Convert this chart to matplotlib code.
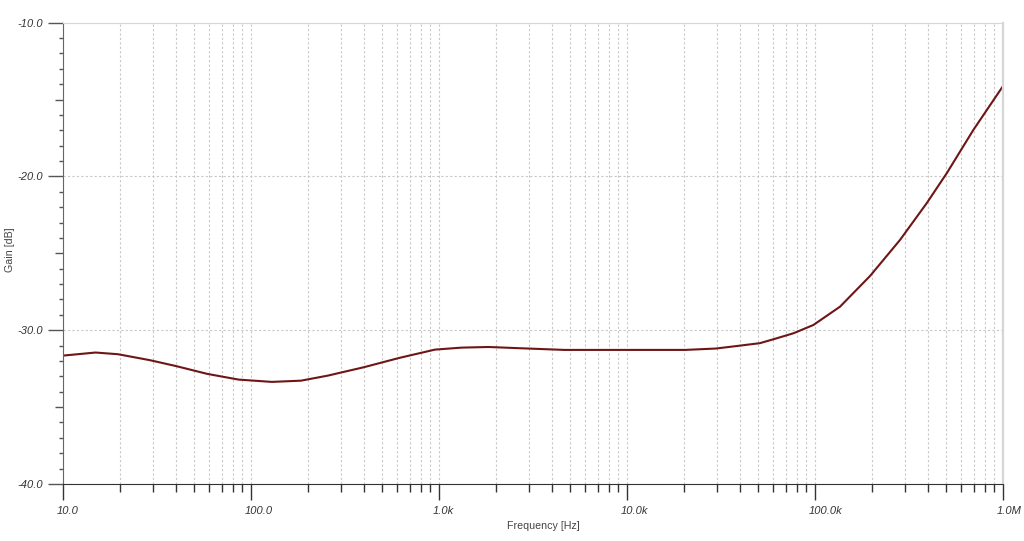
import matplotlib
matplotlib.use("Agg")
import matplotlib.pyplot as plt
from matplotlib.ticker import FixedLocator, NullFormatter
from matplotlib.transforms import ScaledTranslation

plt.rcParams['font.family'] = ['Liberation Sans', 'DejaVu Sans']

freq = [10, 14.9, 19.6, 28.8, 39.9, 58.6, 85.9, 129, 184.5, 256.5, 397, 615, 952,
        1322, 1836, 2691, 4653, 10000, 20370, 29720, 40000, 50970, 60000, 76700,
        98000, 135800, 196300, 283200, 392700, 502000, 695000, 1000000]
gain = [-31.65, -31.45, -31.56, -31.94, -32.33, -32.84, -33.21, -33.36, -33.28, -32.95,
        -32.41, -31.80, -31.26, -31.13, -31.09, -31.17, -31.28, -31.28, -31.28, -31.19,
        -31.00, -30.84, -30.59, -30.20, -29.66, -28.47, -26.47, -24.13, -21.74, -19.79,
        -16.98, -14.12]

x_major = [10, 100, 1e3, 1e4, 1e5, 1e6]
x_labels = ['10.0', '100.0', '1.0k', '10.0k', '100.0k', '1.0M']
y_major = [-40, -30, -20, -10]
y_labels = ['-40.0', '-30.0', '-20.0', '-10.0']
y_mid = [-35, -25, -15]

fig = plt.figure(figsize=(10.24, 5.41), dpi=100)
ax = fig.add_axes([63 / 1024, 1 - 484 / 541, 940 / 1024, 461.3 / 541])

ax.plot(freq, gain, color='#6e1616', linewidth=1.5)

ax.set_xscale('log')
ax.set_xlim(10, 1e6)
ax.set_ylim(-40, -10)

x_minor = [m * 10 ** d for d in range(1, 6) for m in range(2, 10)]
ax.xaxis.set_major_locator(FixedLocator(x_major))
ax.xaxis.set_minor_locator(FixedLocator(x_minor))
ax.set_xticklabels(x_labels)
ax.xaxis.set_minor_formatter(NullFormatter())
ax.yaxis.set_major_locator(FixedLocator(y_major))
ax.set_yticklabels(y_labels)
y_minor = [v for v in range(-39, -10) if v % 5 != 0]
ax.yaxis.set_minor_locator(FixedLocator(y_minor))

ax.tick_params(axis='x', which='major', length=11.5, width=1, color='#333333',
               labelsize=8, labelcolor='#333333', pad=4)
ax.tick_params(axis='x', which='minor', length=5.8, width=1, color='#333333')
ax.tick_params(axis='y', which='major', length=10.8, width=1, color='#555555',
               labelsize=8, labelcolor='#333333', pad=3.5)
ax.tick_params(axis='y', which='minor', length=3.1, width=1, color='#555555')

for lab in ax.get_xticklabels() + ax.get_yticklabels():
    lab.set_fontstyle('italic')
for lab in ax.get_xticklabels():
    lab.set_horizontalalignment('left')
    lab.set_transform(lab.get_transform() + ScaledTranslation(-6 / 100, 0, fig.dpi_scale_trans))

# medium ticks at the half decades of the gain axis
sec = ax.secondary_yaxis('left')
sec.set_yticks(y_mid)
sec.set_yticklabels([])
sec.tick_params(length=5.8, width=1, color='#555555')
sec.spines['left'].set_visible(False)

ax.grid(True, which='both', axis='x', color='#c8c8c8', linestyle=(0, (2, 2)), linewidth=0.8)
ax.grid(True, which='major', axis='y', color='#c8c8c8', linestyle=(0, (2, 2)), linewidth=0.8)

ax.spines['left'].set_color('#666666')
ax.spines['bottom'].set_color('#333333')
ax.spines['top'].set_color('#d6d6d6')
ax.spines['right'].set_color('#d6d6d6')
ax.spines['right'].set_linewidth(1.6)

ax.set_xlabel('Frequency [Hz]', fontsize=7.7, color='#444444')
ax.xaxis.set_label_coords(0.5106, -0.080)
ax.set_ylabel('Gain [dB]', fontsize=7.7, color='#444444')
ax.yaxis.set_label_coords(-0.051, 0.507)

fig.savefig('out.png', dpi=100)
